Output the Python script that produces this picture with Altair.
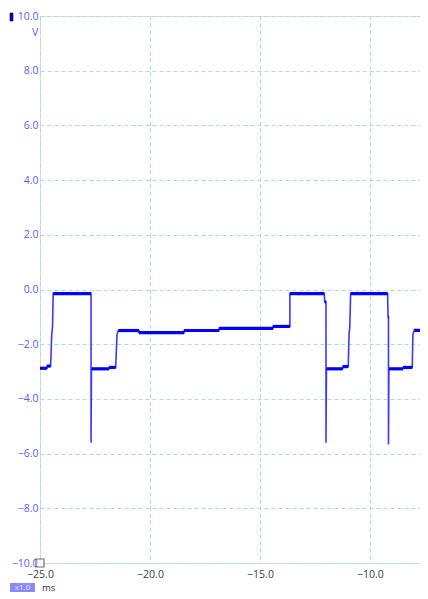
import altair as alt
import pandas as pd

# Oscilloscope trace: time (ms) and voltage (V)
t_ms = [-25.00, -24.68, -24.68, -24.52, -24.50, -24.47, -24.43, -24.40,
        -22.68, -22.68, -22.66, -21.86, -21.86, -21.56, -21.50, -21.44,
        -20.50, -20.50, -18.45, -18.45, -16.86, -16.86, -14.41, -14.41,
        -13.64, -13.64, -12.08, -12.06, -12.00, -12.00, -11.98, -11.24,
        -11.24, -10.99, -10.95, -10.92, -10.88, -9.20, -9.18, -9.16,
        -9.16, -9.14, -8.50, -8.50, -8.08, -8.05, -7.98, -7.20]
volts = [-2.88, -2.88, -2.80, -2.80, -2.45, -1.70, -1.35, -0.15,
         -0.15, -5.60, -2.90, -2.90, -2.85, -2.85, -1.65, -1.50,
         -1.50, -1.58, -1.58, -1.50, -1.50, -1.42, -1.42, -1.35,
         -1.35, -0.15, -0.15, -0.45, -0.45, -5.60, -2.90, -2.90,
         -2.82, -2.82, -1.60, -1.40, -0.15, -0.15, -1.00, -1.00,
         -5.67, -2.90, -2.90, -2.85, -2.85, -1.65, -1.47, -1.52]

x_ticks = [-25.0, -20.0, -15.0, -10.0]
y_ticks = [-10.0, -8.0, -6.0, -4.0, -2.0, 0.0, 2.0, 4.0, 6.0, 8.0, 10.0]
x_domain = [-25.0, -7.727]
y_domain = [-10.0, 10.0]

df = pd.DataFrame({"t": t_ms, "v": volts, "i": range(len(t_ms))})

# horizontal level segments (consecutive points at the same voltage)
seg_rows = []
for k in range(len(t_ms) - 1):
    if abs(volts[k] - volts[k + 1]) < 0.06 and t_ms[k + 1] > t_ms[k]:
        seg_rows.append({"t": t_ms[k], "t2": t_ms[k + 1], "v": (volts[k] + volts[k + 1]) / 2})
seg = pd.DataFrame(seg_rows)

GRID = "#a8dcea"
YLAB = "#5c5cff"
FONT = "Open Sans"

xs = alt.Scale(domain=x_domain, nice=False, zero=False)
ys = alt.Scale(domain=y_domain, nice=False, zero=False)

x_axis = alt.Axis(values=x_ticks, format=".1f", title=None, domain=False, ticks=False,
                  labelPadding=6, labelFlush=False, labelColor="#404040", labelFontSize=10.5,
                  labelFont=FONT, gridColor=GRID, gridDash=[4, 3], gridWidth=1)
y_axis = alt.Axis(values=y_ticks, format=".1f", title=None, domain=False, ticks=False,
                  labelPadding=2, labelColor=YLAB, labelFontSize=10.5, labelFont=FONT,
                  gridColor=GRID, gridDash=[4, 3], gridWidth=1)

base_line = alt.Chart(df).mark_line(color="#3a3aff", strokeWidth=1.6, clip=True).encode(
    x=alt.X("t:Q", scale=xs, axis=x_axis),
    y=alt.Y("v:Q", scale=ys, axis=y_axis),
    order="i:Q",
)

levels = alt.Chart(seg).mark_rule(color="#0000ff", strokeWidth=3.2, clip=True).encode(
    x=alt.X("t:Q", scale=xs),
    x2="t2:Q",
    y=alt.Y("v:Q", scale=ys),
)

origin = alt.Chart(pd.DataFrame({"t": [x_domain[0]], "v": [y_domain[0]]})).mark_point(
    shape="square", size=64, filled=True, fill="white", stroke="#333333", strokeWidth=1.2
).encode(x=alt.X("t:Q", scale=xs), y=alt.Y("v:Q", scale=ys))

dummy = pd.DataFrame({"a": [0]})

chan_marker = alt.Chart(dummy).mark_rect(color="#0000dd", stroke="#000000", strokeWidth=0.6).encode(
    x=alt.value(-30), x2=alt.value(-27), y=alt.value(-3), y2=alt.value(5)
)

unit_v = alt.Chart(dummy).mark_text(text="V", color=YLAB, fontSize=10.5, font=FONT,
                                    align="center", baseline="middle").encode(
    x=alt.value(-5), y=alt.value(17)
)

zoom_box = alt.Chart(dummy).mark_rect(color="#8a8aff").encode(
    x=alt.value(-30), x2=alt.value(-5), y=alt.value(567), y2=alt.value(576)
)
zoom_text = alt.Chart(dummy).mark_text(text="x1.0", color="#e4e4ff", fontSize=8, font=FONT,
                                       align="center", baseline="middle").encode(
    x=alt.value(-17.5), y=alt.value(571.5)
)
ms_text = alt.Chart(dummy).mark_text(text="ms", color="#333333", fontSize=9.5, font=FONT,
                                     align="left", baseline="middle").encode(
    x=alt.value(2), y=alt.value(571.5)
)

chart = alt.layer(base_line, levels, origin, chan_marker, unit_v, zoom_box, zoom_text, ms_text).properties(
    width=380, height=547,
    autosize=alt.AutoSizeParams(type="none"),
    padding={"left": 32, "top": 8, "right": 0, "bottom": 30},
).configure_view(stroke=None).configure(background="white")

chart.save("out.html", embed_options={"renderer": "svg", "actions": False})
